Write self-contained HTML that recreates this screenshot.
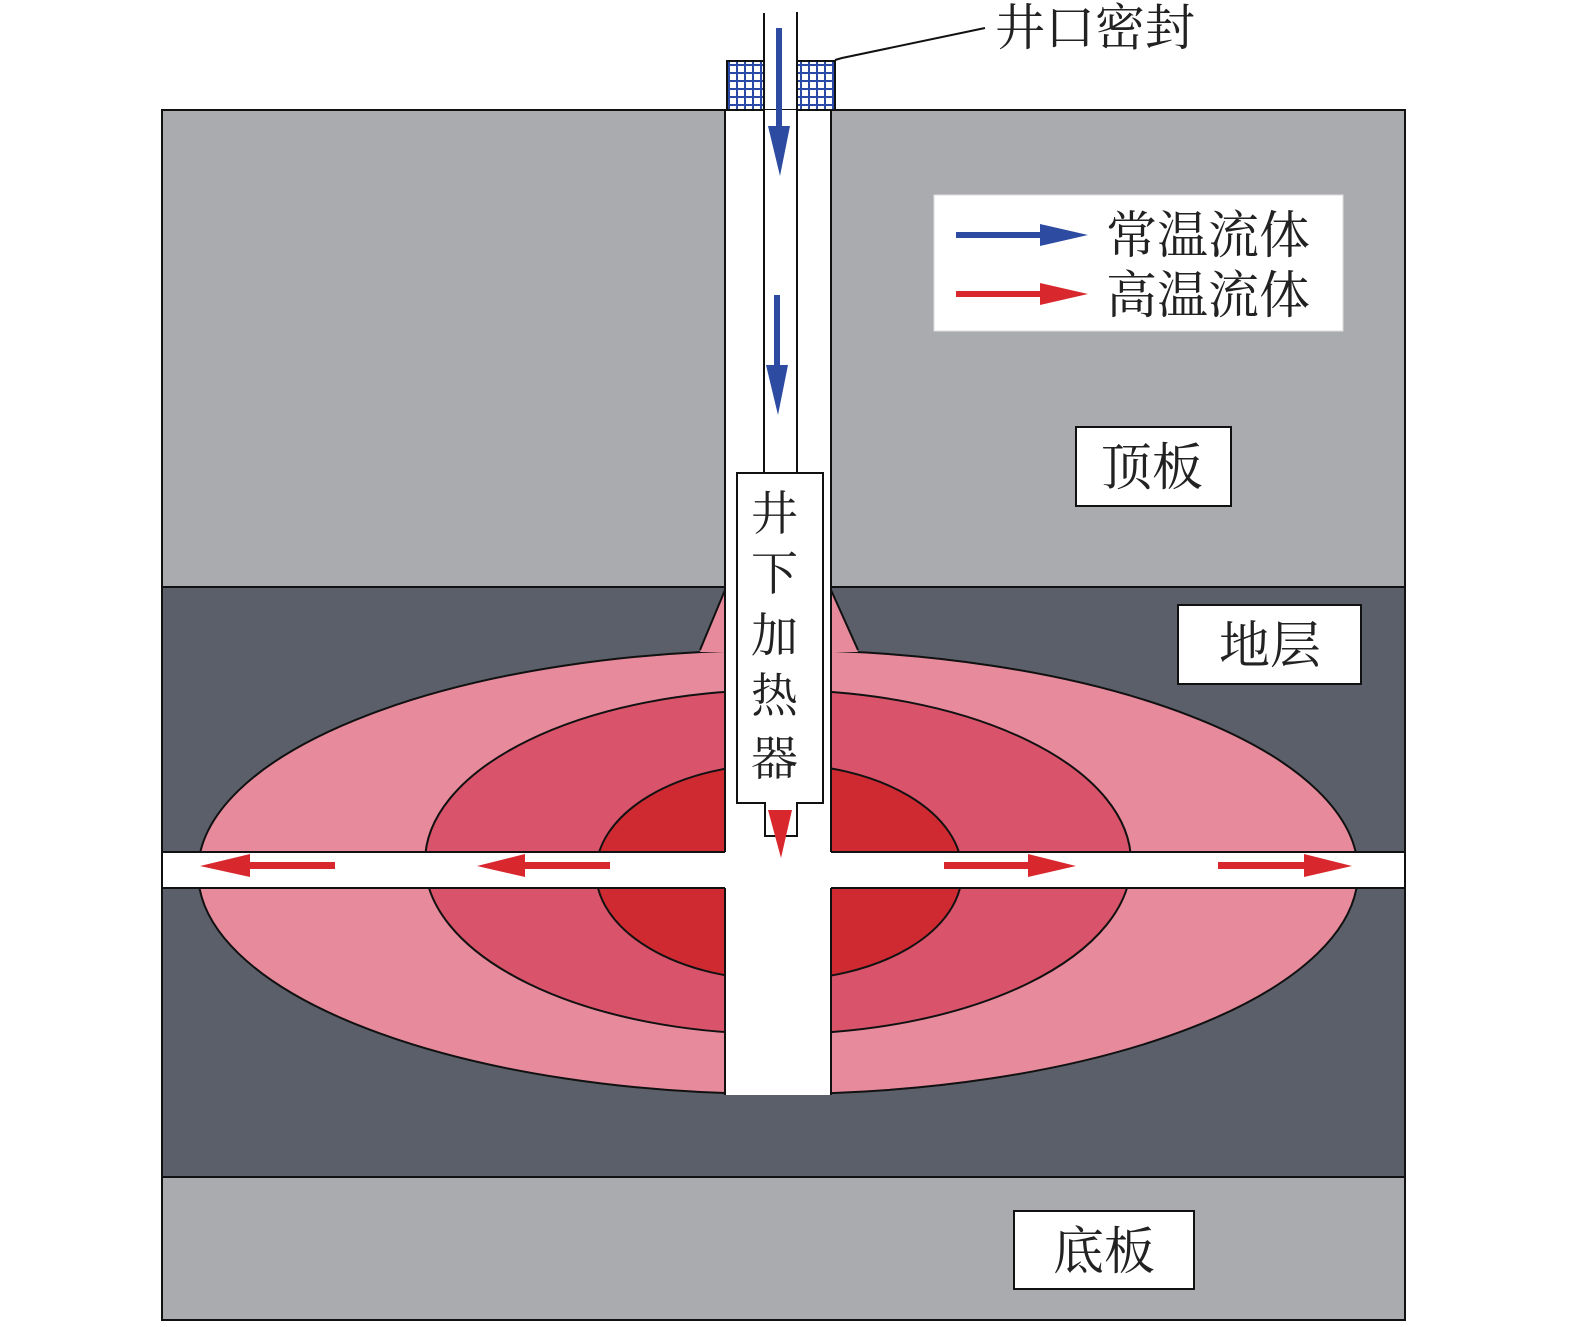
<!DOCTYPE html>
<html><head><meta charset="utf-8"><style>
html,body{margin:0;padding:0;background:#fff;width:1575px;height:1327px;overflow:hidden}
text{font-family:"Liberation Serif","Noto Serif CJK SC","Noto Sans CJK SC",serif;fill:#222}
</style></head><body>
<svg width="1575" height="1327" viewBox="0 0 1575 1327" xmlns="http://www.w3.org/2000/svg">
<defs>
<clipPath id="c"><rect x="162" y="110" width="1243" height="1210"/></clipPath>
<pattern id="grid" width="8" height="8" patternUnits="userSpaceOnUse">
<rect width="8" height="8" fill="#fff"/>
<rect width="8" height="2" fill="#2a4aa8"/><rect width="2" height="8" fill="#2a4aa8"/>
</pattern>
</defs>
<g clip-path="url(#c)">
<rect x="162" y="110" width="1243" height="477" fill="#aaabaf"/>
<rect x="162" y="587" width="1243" height="590" fill="#5b5f69"/>
<rect x="162" y="1177" width="1243" height="143" fill="#aaabaf"/>
<line x1="162" y1="587" x2="1405" y2="587" stroke="#111" stroke-width="2"/>
<line x1="162" y1="1177" x2="1405" y2="1177" stroke="#111" stroke-width="2"/>
<ellipse cx="778" cy="872" rx="580" ry="222" fill="#e68a9c" stroke="#111" stroke-width="2"/>
<polygon points="700,652 725,590 831,590 858,652" fill="#e68a9c"/>
<polyline points="700,650 725,590" fill="none" stroke="#111" stroke-width="2"/>
<polyline points="858,650 831,590" fill="none" stroke="#111" stroke-width="2"/>
<ellipse cx="778" cy="862" rx="353" ry="172" fill="#d9546a" stroke="#111" stroke-width="2"/>
<ellipse cx="779" cy="872" rx="183" ry="108" fill="#cf2a32" stroke="#111" stroke-width="2"/>
<rect x="150" y="852" width="1270" height="36" fill="#fff"/>
<line x1="162" y1="852" x2="725" y2="852" stroke="#111" stroke-width="2"/>
<line x1="831" y1="852" x2="1405" y2="852" stroke="#111" stroke-width="2"/>
<line x1="162" y1="888" x2="725" y2="888" stroke="#111" stroke-width="2"/>
<line x1="831" y1="888" x2="1405" y2="888" stroke="#111" stroke-width="2"/>
</g>
<rect x="162" y="110" width="1243" height="1210" fill="none" stroke="#111" stroke-width="2"/>
<rect x="725" y="110" width="106" height="985" fill="#fff"/>
<line x1="725" y1="110" x2="725" y2="852" stroke="#111" stroke-width="2"/>
<line x1="831" y1="110" x2="831" y2="852" stroke="#111" stroke-width="2"/>
<line x1="725" y1="888" x2="725" y2="1095" stroke="#111" stroke-width="2"/>
<line x1="831" y1="888" x2="831" y2="1095" stroke="#111" stroke-width="2"/>
<rect x="727" y="61" width="37" height="49" fill="url(#grid)" stroke="#111" stroke-width="2"/>
<rect x="797" y="61" width="38" height="49" fill="url(#grid)" stroke="#111" stroke-width="2"/>
<line x1="764" y1="13" x2="764" y2="473" stroke="#111" stroke-width="2"/>
<line x1="797" y1="12" x2="797" y2="473" stroke="#111" stroke-width="2"/>
<polyline points="835,60 842,58 985,28" fill="none" stroke="#111" stroke-width="2"/>
<text x="995" y="45" font-size="50">井口密封</text>
<polygon points="764,473 737,473 737,803 765,803 765,836 797,836 797,803 823,803 823,473 797,473" fill="#fff" stroke="#111" stroke-width="2"/>
<text font-size="47" x="751" y="530">井</text>
<text font-size="47" x="751" y="590">下</text>
<text font-size="47" x="751" y="652">加</text>
<text font-size="47" x="751" y="712">热</text>
<text font-size="47" x="751" y="775">器</text>
<polygon points="768,810 792,810 781,858" fill="#d8282e"/>
<rect x="776" y="28" width="6" height="100" fill="#2d4ba0"/>
<polygon points="768,126 790,126 780,176" fill="#2d4ba0"/>
<rect x="774" y="295" width="6" height="72" fill="#2d4ba0"/>
<polygon points="766,365 788,365 778,415" fill="#2d4ba0"/>
<g fill="#d8282e">
<rect x="245" y="862" width="90" height="7"/><polygon points="250,854 250,877 200,866"/>
<rect x="520" y="862" width="90" height="7"/><polygon points="525,854 525,877 477,866"/>
<rect x="944" y="862" width="90" height="7"/><polygon points="1028,854 1028,877 1076,866"/>
<rect x="1218" y="862" width="90" height="7"/><polygon points="1304,854 1304,877 1352,866"/>
</g>
<rect x="934" y="195" width="409" height="136" fill="#fff" stroke="#ddd"/>
<rect x="956" y="232" width="88" height="6" fill="#2d4ba0"/>
<polygon points="1040,224 1040,246 1088,235" fill="#2d4ba0"/>
<rect x="956" y="291" width="88" height="6" fill="#d8282e"/>
<polygon points="1040,283 1040,305 1088,294" fill="#d8282e"/>
<text x="1106" y="253" font-size="51">常温流体</text>
<text x="1106" y="313" font-size="51">高温流体</text>
<rect x="1076" y="427" width="155" height="79" fill="#fff" stroke="#111" stroke-width="2"/>
<text x="1101" y="485" font-size="51">顶板</text>
<rect x="1178" y="605" width="183" height="79" fill="#fff" stroke="#111" stroke-width="2"/>
<text x="1219" y="663" font-size="51">地层</text>
<rect x="1014" y="1211" width="180" height="78" fill="#fff" stroke="#111" stroke-width="2"/>
<text x="1053" y="1269" font-size="51">底板</text>
</svg>
</body></html>
